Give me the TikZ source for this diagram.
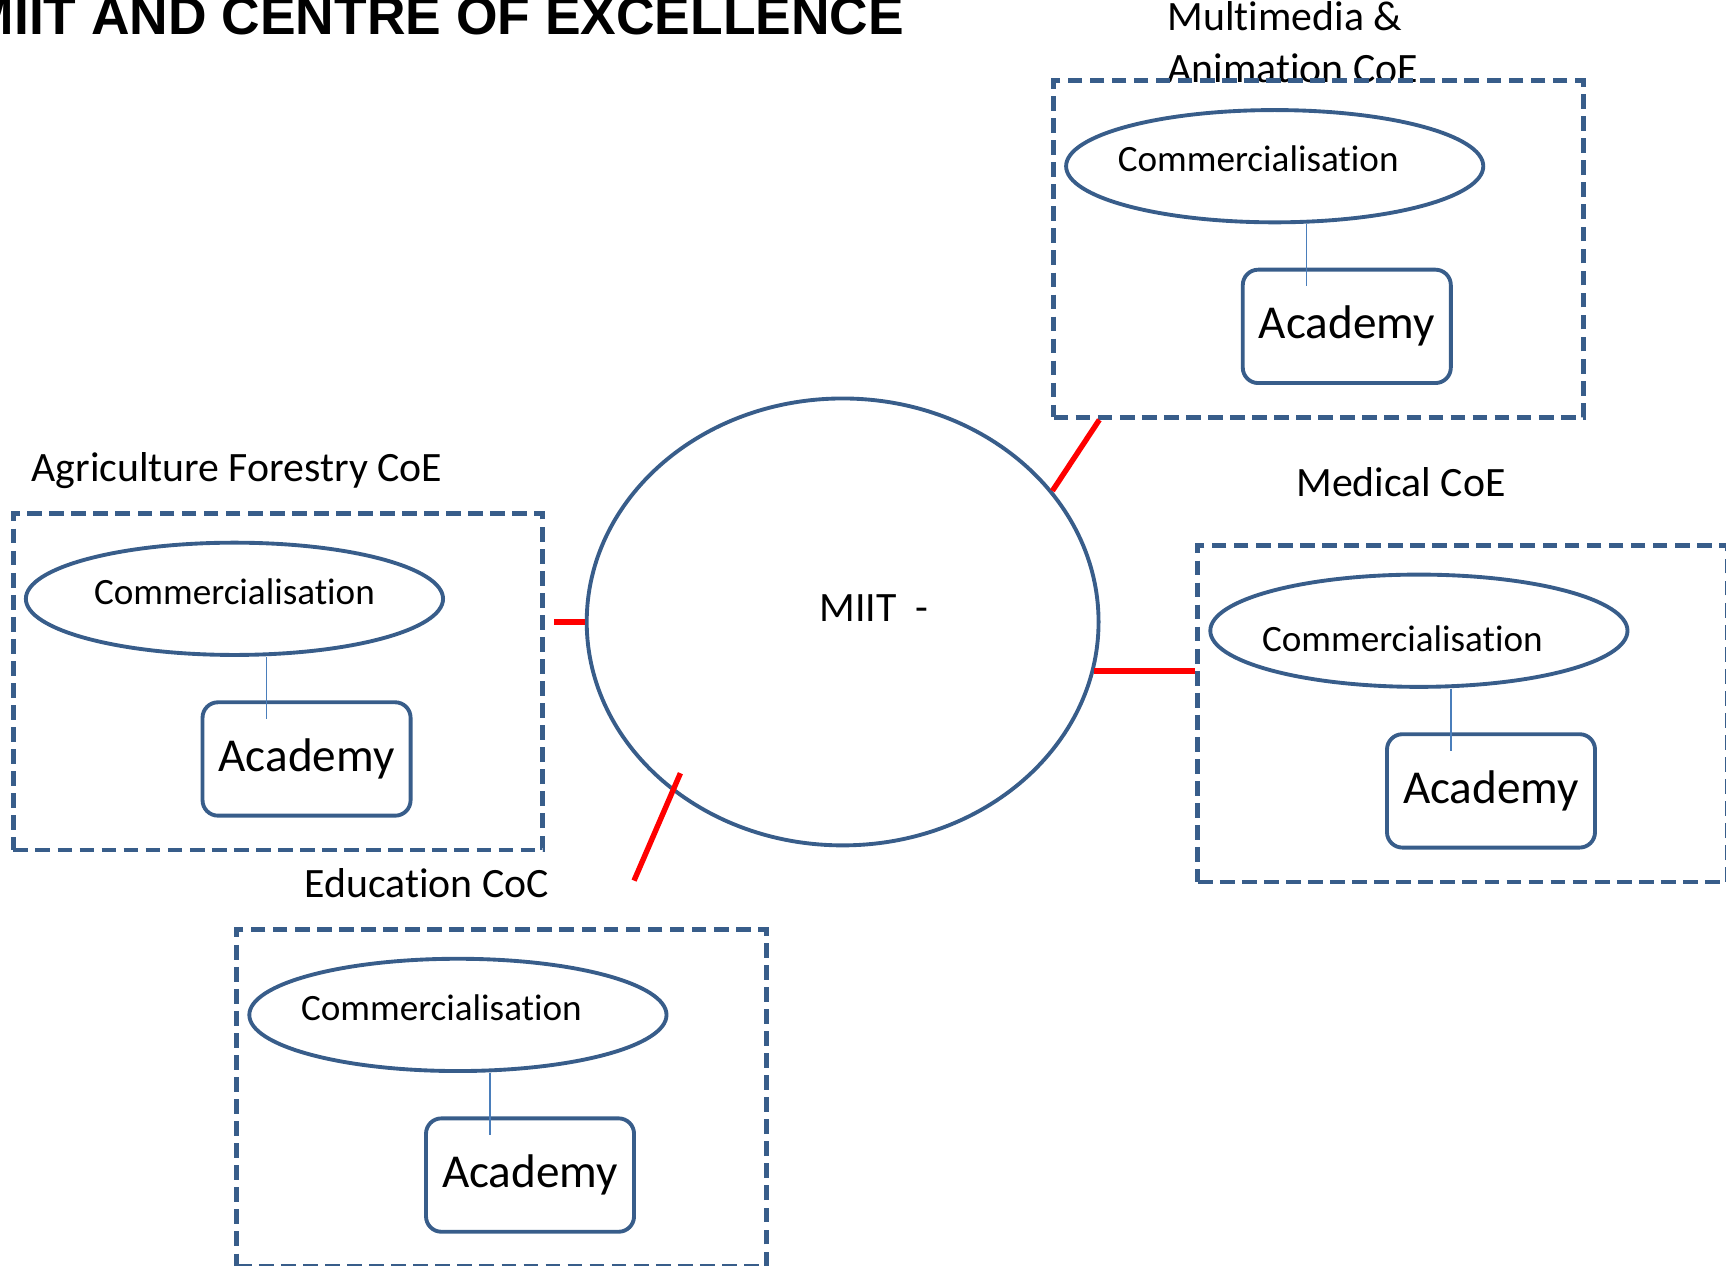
\documentclass[tikz,border=0pt]{standalone}
\usepackage{fontspec}
\setmainfont{Carlito}[Ligatures=NoCommon]
\newfontfamily\titlefont{Liberation Sans}
\usetikzlibrary{shapes.geometric,calc}
\definecolor{coeblue}{RGB}{56,93,138}
\definecolor{tieblue}{RGB}{74,126,187}
\tikzset{
  cluster/.style={draw=coeblue, line width=1.25pt, dash pattern=on 3.8pt off 1.9pt,
    minimum width=4.81cm, minimum height=3.06cm, inner sep=0pt, anchor=north west},
  com/.style={ellipse, draw=coeblue, line width=1pt, minimum width=3.79cm,
    minimum height=1.02cm, inner sep=0pt, text height=0.3cm, text depth=0.2cm,
    font=\fontsize{9.6}{11}\selectfont},
  acad/.style={draw=coeblue, line width=1pt, rounded corners=0.14cm, minimum width=1.89cm,
    minimum height=1.03cm, inner sep=0pt, font=\fontsize{12.2}{14}\selectfont},
  tie/.style={draw=tieblue, line width=0.4pt},
  link/.style={red, line width=1.4pt},
  coe/.style={anchor=base west, inner sep=0pt, align=left, font=\fontsize{10.8}{13.4}\selectfont},
}

\begin{document}
\begin{tikzpicture}
  \useasboundingbox (0,0) rectangle (15.68,-11.50);

  \node[anchor=base east, inner sep=0pt, font=\titlefont\bfseries\fontsize{13.8}{16}\selectfont]
    (title) at (8.22,-0.31) {MIIT AND CENTRE OF EXCELLENCE};

  % ---------- centre: MIIT ----------
  \node[ellipse, draw=coeblue, line width=1pt, minimum width=4.65cm, minimum height=4.06cm]
    (miit) at (7.655,-5.65) {};
  \node[font=\fontsize{10.8}{13}\selectfont] (miit-txt) at (7.94,-5.52) {MIIT\ \ -};

  % ---------- Multimedia & Animation ----------
  \node[coe] (mm-lbl) at (10.60,-0.75) {Multimedia \&\\Animation CoE};
  \begin{scope}[shift={(9.55,-0.71)}]
    \node[cluster] (mm-box) at (0,0) {};
    \node[com] (mm-com) at (2.03,-0.80) {\kern-0.3cm Commercialisation};
    \node[acad] (mm-acad) at (2.685,-2.255) {Academy};
    \coordinate (mm-tie) at (2.32,-1.89);
    \draw[tie] (mm-com.south -| mm-tie) -- (mm-tie);
  \end{scope}

  % ---------- Agriculture Forestry ----------
  \node[coe] (ag-lbl) at (0.28,-4.37) {Agriculture Forestry CoE};
  \begin{scope}[shift={(0.10,-4.64)}]
    \node[cluster] (ag-box) at (0,0) {};
    \node[com] (ag-com) at (2.03,-0.80) {Commercialisation};
    \node[acad] (ag-acad) at (2.685,-2.255) {Academy};
    \coordinate (ag-tie) at (2.32,-1.89);
    \draw[tie] (ag-com.south -| ag-tie) -- (ag-tie);
  \end{scope}

  % ---------- Medical ----------
  \node[coe] (md-lbl) at (11.77,-4.51) {Medical CoE};
  \begin{scope}[shift={(10.86,-4.93)}]
    \node[cluster] (md-box) at (0,0) {};
    \node[com, text height=0.48cm, text depth=0.1cm] (md-com) at (2.03,-0.80)
      {\kern-0.3cm Commercialisation};
    \node[acad] (md-acad) at (2.685,-2.255) {Academy};
    \coordinate (md-tie) at (2.32,-1.89);
    \draw[tie] (md-com.south -| md-tie) -- (md-tie);
  \end{scope}

  % ---------- Education ----------
  \node[coe] (ed-lbl) at (2.76,-8.15) {Education CoC};
  \begin{scope}[shift={(2.13,-8.42)}]
    \node[cluster] (ed-box) at (0,0) {};
    \node[com] (ed-com) at (2.03,-0.80) {\kern-0.3cm Commercialisation};
    \node[acad] (ed-acad) at (2.685,-2.255) {Academy};
    \coordinate (ed-tie) at (2.32,-1.89);
    \draw[tie] (ed-com.south -| ed-tie) -- (ed-tie);
  \end{scope}

  % red links to the hub
  \coordinate (ed-end) at (5.76,-8.00);
  \draw[link] ($(mm-box.south west)!0.09!(mm-box.south east)$) -- (miit.32);
  \draw[link] (miit.west) -- ++(-0.28,0);
  \draw[link] (miit.-11) -- (miit.-11 -| md-box.west);
  \draw[link] ($(miit.center)!0.92!(miit.223)$) -- (ed-end);
\end{tikzpicture}
\end{document}
